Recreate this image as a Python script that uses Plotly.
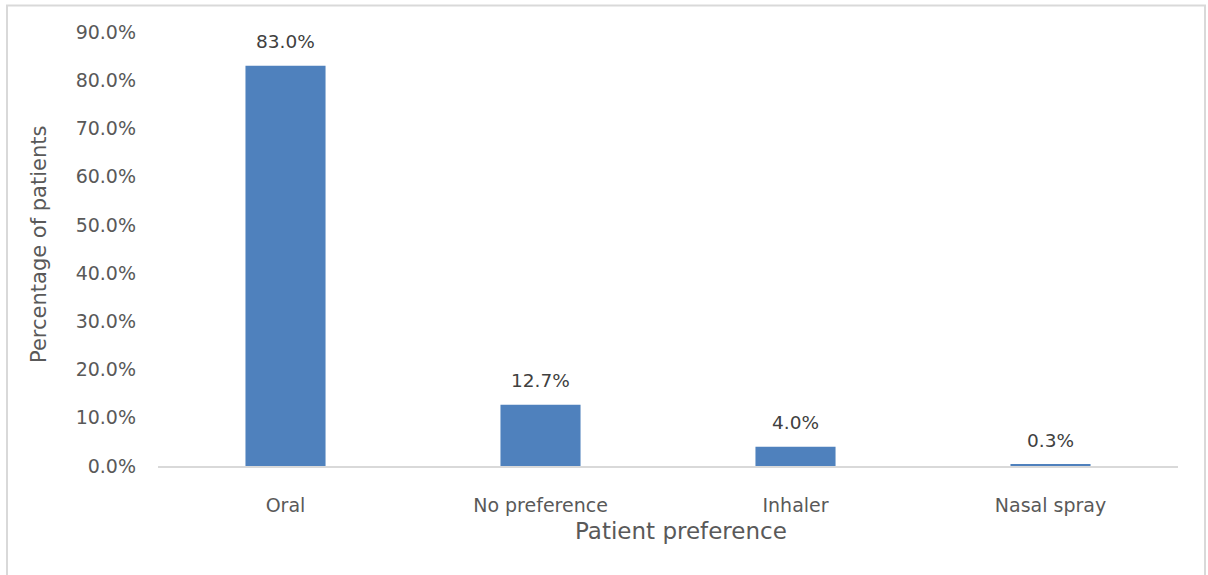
import plotly.graph_objects as go

# Patient preference for route of administration
categories = ["Oral", "No preference", "Inhaler", "Nasal spray"]
percentages = [83.0, 12.7, 4.0, 0.3]
y_ticks = [0, 10, 20, 30, 40, 50, 60, 70, 80, 90]
y_tick_labels = [f"{v:.1f}%" for v in y_ticks]

W, H = 1208, 575
L, R, T, B = 158, 30, 32, 109
plot_w = W - L - R
plot_h = H - T - B


def px_x(x):
    return (x - L) / plot_w


def px_y(y):
    return (H - B - y) / plot_h


FONT = "DejaVu Sans"

fig = go.Figure()
fig.add_trace(go.Bar(
    x=categories,
    y=percentages,
    marker=dict(color="#4F81BD", line=dict(width=0)),
    width=0.314,
    hoverinfo="skip",
))

# value labels above each bar
for cat, val in zip(categories, percentages):
    fig.add_annotation(
        x=cat, y=val, text=f"{val:.1f}%", showarrow=False,
        yanchor="bottom", yshift=12,
        font=dict(family=FONT, size=18.5, color="#404040"),
    )

# axis titles
fig.add_annotation(
    x=px_x(681), y=px_y(531), xref="paper", yref="paper",
    text="Patient preference", showarrow=False,
    xanchor="center", yanchor="middle",
    font=dict(family=FONT, size=23, color="#595959"),
)
fig.add_annotation(
    x=px_x(39), y=px_y(245), xref="paper", yref="paper",
    text="Percentage of patients", showarrow=False, textangle=-90,
    xanchor="center", yanchor="middle",
    font=dict(family=FONT, size=21, color="#595959"),
)

# light border around the chart area
fig.add_shape(
    type="rect", xref="paper", yref="paper",
    x0=px_x(7), x1=px_x(1205), y0=px_y(580), y1=px_y(5.5),
    line=dict(color="#D9D9D9", width=2), fillcolor="rgba(0,0,0,0)",
    layer="below",
)

fig.update_layout(
    width=W, height=H,
    margin=dict(l=L, r=R, t=T, b=B),
    paper_bgcolor="white", plot_bgcolor="white",
    showlegend=False,
    xaxis=dict(
        showgrid=False, zeroline=False,
        showline=True, linecolor="#D9D9D9", linewidth=2, layer="above traces",
        ticks="", tickfont=dict(family=FONT, size=19, color="#595959"),
        ticklabelstandoff=21,
    ),
    yaxis=dict(
        range=[0, 90], showgrid=False, zeroline=False, showline=False,
        tickmode="array", tickvals=y_ticks, ticktext=y_tick_labels,
        ticks="", tickfont=dict(family=FONT, size=19, color="#595959"),
        ticklabelstandoff=21,
    ),
)

fig.write_html("out.html")
